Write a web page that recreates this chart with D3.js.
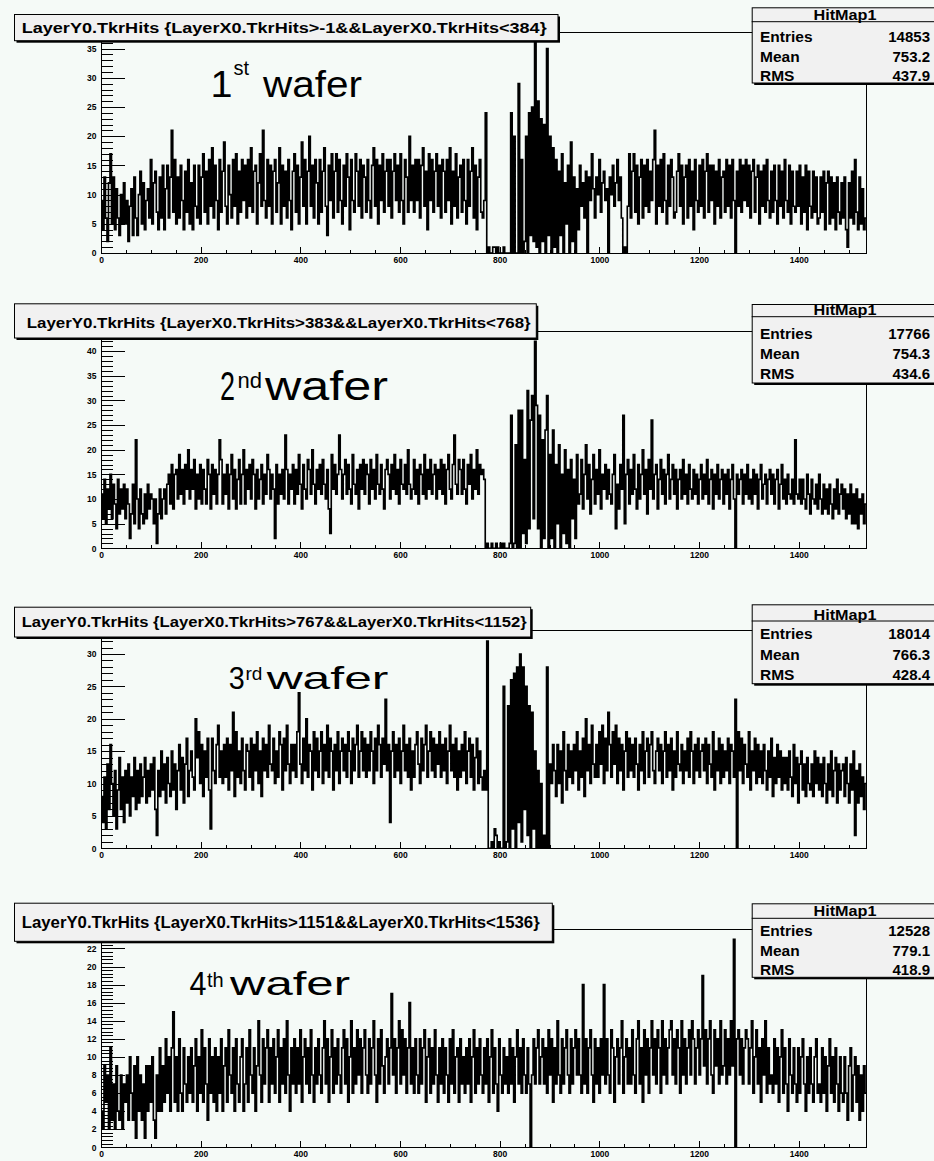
<!DOCTYPE html>
<html>
<head>
<meta charset="utf-8">
<script src="https://cdn.jsdelivr.net/npm/d3@7"></script>
<style>
  body { margin: 0; background: #f5faf7; }
  svg { display: block; }
  text { font-family: "Liberation Sans", Arial, sans-serif; }
</style>
</head>
<body>
<svg id="canvas" width="934" height="1161"></svg>
<script>
// Hit counts per strip, one value per group of 3 strips (1536 strips per layer).
const channelsPerValue = 3;
const channelCount = 1536;

const wafer1Counts = [
  9,4,13,6,2,12,17,5,13,4,11,6,3,10,5,12,
  5,9,2,8,11,3,13,6,3,10,14,5,12,4,9,11,
  6,16,5,12,14,7,4,13,6,15,4,11,15,6,13,21,
  7,16,5,13,6,15,9,4,14,7,16,5,12,4,15,8,
  6,15,5,13,17,7,14,5,16,8,18,6,15,9,4,16,
  7,14,19,8,5,15,10,6,16,8,17,5,14,7,16,9,
  15,6,16,8,18,7,14,15,5,12,17,8,21,9,6,16,
  8,15,5,14,16,7,12,18,5,15,8,14,6,16,9,4,
  14,17,7,15,5,13,19,8,16,5,14,20,8,15,6,16,
  12,5,16,7,14,18,8,3,15,9,17,6,14,17,7,16,
  9,5,15,8,17,13,4,16,9,7,17,14,8,16,6,15,
  13,7,16,9,6,15,18,8,16,5,15,9,17,7,14,16,
  8,16,6,14,17,9,15,7,17,9,5,16,13,7,20,9,
  15,7,16,9,16,6,15,18,8,14,4,17,9,16,7,14,
  17,8,15,6,16,14,7,16,9,18,5,14,8,17,6,13,
  15,7,16,9,5,16,8,14,18,6,15,4,13,16,7,6,
  9,24,0,1,0,0,1,1,0,1,0,0,0,1,0,0,
  0,0,24,0,20,0,0,29,0,16,0,2,20,0,24,3,
  25,2,36,1,26,0,23,2,22,0,35,3,20,0,18,1,
  16,0,14,3,17,0,12,5,15,0,19,2,13,0,11,4,
  15,8,12,6,14,0,13,9,17,11,6,13,10,16,7,12,
  14,9,11,0,13,10,15,8,12,16,9,13,6,0,1,0,
  8,17,6,14,17,7,15,5,13,16,6,15,8,16,7,14,
  9,16,21,5,15,8,16,7,17,9,5,15,8,16,13,6,
  7,14,17,8,15,5,13,15,6,16,8,14,4,16,9,7,
  15,8,16,6,14,17,7,15,9,15,5,14,8,16,6,13,
  14,7,16,8,15,6,16,9,0,14,8,16,7,15,9,16,
  8,15,6,14,16,7,13,15,5,14,8,15,7,16,9,6,
  14,7,15,9,5,15,8,14,6,16,9,7,15,5,14,8,
  7,14,8,15,5,13,7,15,4,14,8,6,14,7,13,5,
  6,13,7,14,4,12,14,5,13,6,12,4,13,7,5,12,
  6,13,4,1,12,6,14,5,16,7,4,13,5,11,4,6
];

const wafer2Counts = [
  11,6,14,5,12,8,15,6,13,9,4,14,7,12,8,13,
  6,12,9,2,7,13,5,22,10,4,12,7,5,11,6,13,
  8,11,10,5,10,1,7,12,6,10,12,7,13,15,9,17,
  8,15,16,10,19,11,16,9,17,12,20,10,16,12,18,8,
  15,10,17,9,16,12,9,18,15,8,17,11,16,9,15,22,
  18,9,15,11,17,8,15,19,10,16,8,14,18,9,15,20,
  9,16,12,17,10,18,15,8,16,10,14,17,9,15,11,19,
  16,10,15,12,2,17,9,15,11,16,10,23,16,9,15,12,
  17,9,16,11,19,13,8,17,12,10,18,16,11,20,13,9,
  16,12,17,11,18,13,10,16,8,3,19,12,17,11,15,23,
  16,10,15,18,11,17,12,9,19,13,11,16,8,17,12,18,
  11,17,15,9,18,12,16,10,19,13,11,17,12,8,16,18,
  15,10,17,12,19,11,16,9,18,13,12,17,11,20,13,10,
  12,18,11,16,9,17,15,11,19,10,16,12,18,11,15,17,
  10,16,12,18,11,17,9,16,19,12,10,17,23,13,11,18,
  16,11,18,12,9,17,13,19,10,16,12,20,11,17,15,16,
  14,0,1,0,0,1,0,0,1,0,0,1,0,1,0,0,
  0,1,27,0,1,21,0,28,0,28,3,18,1,32,4,26,
  31,6,42,29,4,27,0,22,2,24,31,0,19,2,24,0,
  17,5,21,0,15,3,20,1,16,0,18,6,14,2,19,9,
  11,18,8,15,21,10,17,7,14,19,9,16,11,20,8,15,
  12,17,10,16,11,9,15,19,4,13,8,17,12,27,5,15,
  18,9,16,11,19,12,8,17,10,15,20,11,16,7,18,12,
  26,10,15,17,8,14,18,11,16,9,15,19,10,14,17,11,
  16,8,14,16,10,18,11,15,9,17,12,10,16,11,15,9,
  14,17,10,15,11,18,9,14,16,8,15,11,17,10,14,16,
  9,15,11,16,8,14,17,10,0,15,11,14,16,9,15,11,
  17,10,14,9,16,11,15,8,14,17,10,13,15,9,14,16,
  11,15,9,14,16,8,13,17,10,14,9,15,11,10,14,9,
  22,11,10,14,9,14,10,8,15,11,7,14,10,9,13,8,
  15,10,7,13,8,12,7,13,9,6,12,8,14,7,11,13,
  8,12,6,11,7,13,5,11,5,12,4,10,7,11,5,9
];

const wafer3Counts = [
  8,4,11,3,13,6,16,10,5,12,3,9,14,6,11,4,
  12,7,13,5,11,8,14,6,12,7,13,8,11,14,7,12,
  8,13,9,14,6,2,12,8,15,9,13,7,14,10,8,15,
  9,13,6,12,16,9,14,7,13,17,8,12,15,11,9,20,
  14,18,10,16,8,15,11,17,9,3,17,12,10,16,19,11,
  15,10,16,11,17,9,16,12,21,8,18,11,15,10,17,12,
  9,16,15,11,17,9,16,12,18,10,15,8,17,12,16,11,
  19,13,12,17,10,15,11,18,16,9,17,12,19,13,10,16,
  12,16,11,18,24,13,10,17,12,20,11,16,15,9,18,12,
  17,11,15,18,10,16,12,19,11,17,15,9,16,12,18,10,
  15,17,12,16,11,18,15,10,17,12,16,19,11,15,18,12,
  17,11,16,12,18,15,10,17,12,19,16,11,17,13,23,12,
  16,4,15,18,11,16,12,17,10,15,19,12,16,11,17,9,
  15,11,16,18,13,10,17,12,16,19,11,15,18,12,17,11,
  16,13,18,11,16,12,17,10,15,19,12,16,11,17,9,15,
  11,16,12,18,10,15,17,11,16,9,14,17,10,15,11,9,
  12,9,32,0,0,1,0,3,2,0,1,0,0,25,0,1,
  22,0,26,3,27,0,28,4,30,1,28,6,25,2,22,0,
  21,3,15,0,12,0,10,0,2,0,28,0,13,10,16,12,
  8,16,10,15,7,18,12,9,16,11,15,10,16,12,18,9,
  15,11,17,8,20,12,16,10,19,13,11,16,11,18,13,19,
  10,17,12,21,16,11,18,13,19,10,17,12,16,9,15,18,
  11,17,12,16,11,17,13,9,16,12,18,10,15,17,11,16,
  18,12,10,15,17,12,16,10,15,18,11,16,12,17,9,15,
  11,18,13,12,16,10,15,12,17,11,18,15,10,16,12,17,
  11,15,16,12,17,10,16,13,11,18,9,15,12,17,10,16,
  11,15,12,17,10,16,15,11,23,0,18,12,17,10,16,13,
  11,18,9,15,12,17,10,16,11,15,10,16,12,9,15,11,
  17,8,14,10,16,11,15,9,14,10,14,9,15,11,8,16,
  10,14,7,13,15,9,13,8,14,10,9,13,8,15,10,14,
  9,13,8,14,10,7,13,9,15,8,12,14,7,13,9,12,
  13,8,14,10,7,13,9,15,2,12,7,13,8,11,6,10
];

const wafer4Counts = [
  4,2,9,5,8,2,11,3,7,2,9,4,3,8,2,7,
  5,8,3,10,6,3,9,1,10,4,8,3,7,1,9,4,
  9,5,10,3,1,8,4,11,4,9,5,12,6,10,4,11,
  15,5,10,4,12,6,4,11,7,5,10,6,11,5,9,12,
  4,10,6,13,5,11,7,3,12,6,10,5,11,4,10,6,
  12,4,9,11,5,13,8,6,11,4,12,7,5,10,12,4,
  7,11,5,13,8,6,11,4,9,14,8,5,12,7,11,13,
  5,11,7,12,6,10,13,5,11,7,12,6,14,8,4,11,
  7,12,6,11,7,13,5,10,12,7,11,6,13,8,5,11,
  7,12,8,6,11,14,7,12,5,10,13,6,11,7,12,8,
  6,11,13,7,12,5,10,14,6,11,7,13,8,12,6,11,
  13,8,6,12,7,11,14,8,5,12,7,13,9,6,10,12,
  7,11,17,8,12,6,11,14,7,13,8,12,6,11,16,7,
  11,6,12,8,6,12,7,11,13,5,10,12,6,11,7,13,
  8,5,11,7,12,6,11,8,5,12,7,13,6,10,11,5,
  12,7,10,6,11,7,12,5,10,13,6,11,7,12,8,6,
  11,7,12,5,10,13,6,11,7,4,12,8,6,11,7,10,
  6,12,7,11,5,10,13,7,11,6,12,8,6,11,7,0,
  8,12,7,11,13,7,10,12,7,11,6,13,8,12,5,11,
  7,14,8,6,12,7,11,13,8,6,12,7,11,13,8,12,
  8,6,18,7,12,6,11,13,8,5,12,7,11,6,12,8,
  18,7,12,8,6,13,11,5,10,12,7,11,14,6,10,12,
  7,11,7,13,8,6,12,14,7,11,5,13,8,12,6,11,
  14,8,12,7,13,11,6,14,8,12,7,11,13,14,8,12,
  7,13,11,6,14,8,12,7,11,13,8,14,12,7,11,13,
  8,12,19,9,13,7,12,14,8,6,13,9,12,7,14,8,
  9,13,7,12,8,14,9,23,0,12,13,8,12,7,11,13,
  12,7,11,14,6,10,13,7,11,5,12,8,14,6,11,7,
  8,6,12,7,11,5,10,13,6,11,7,4,12,8,6,11,
  7,5,11,6,10,12,7,4,10,6,11,7,5,10,12,6,
  7,5,11,6,10,4,9,12,6,10,5,11,7,4,10,6,
  5,10,6,3,9,11,4,8,10,5,9,3,8,4,9,6
];

const xTickValues = [0, 200, 400, 600, 800, 1000, 1200, 1400];
const yTicks1 = [0, 5, 10, 15, 20, 25, 30, 35];
const yTicks2 = [0, 5, 10, 15, 20, 25, 30, 35, 40];
const yTicks3 = [0, 5, 10, 15, 20, 25, 30];
const yTicks4 = [0, 2, 4, 6, 8, 10, 12, 14, 16, 18, 20, 22];

const titles = [
  "LayerY0.TkrHits {LayerX0.TkrHits>-1&&LayerX0.TkrHits<384}",
  "LayerY0.TkrHits {LayerX0.TkrHits>383&&LayerX0.TkrHits<768}",
  "LayerY0.TkrHits {LayerX0.TkrHits>767&&LayerX0.TkrHits<1152}",
  "LayerY0.TkrHits {LayerX0.TkrHits>1151&&LayerX0.TkrHits<1536}"
];
const waferNumbers = ["1", "2", "3", "4"];
const waferSuffixes = ["st", "nd", "rd", "th"];
const statsName = "HitMap1";
const statLabels = ["Entries", "Mean", "RMS"];
const statEntries = ["14853", "17766", "18014", "12528"];
const statMeans = ["753.2", "754.3", "766.3", "779.1"];
const statRms = ["437.9", "434.6", "428.4", "418.9"];

// Page geometry for each pad
const pads = [
  { top: 32.3, bottom: 253,
    title: { x0: 14, y0: 14, x1: 560, y1: 42.7, tx: 21.7, base: 33.4, fs: 14, len: 525 },
    stats: { y0: 7.3, y1: 85, sep: 21.7, head: 19.6, rows: [41.7, 61.5, 80.6] },
    label: { fs: 37, dx: 210.5, dlen: 22, base: 96.7, sfs: 20, sx: 233.5, sbase: 75, wx: 263, wlen: 99 } },
  { top: 331, bottom: 548.3,
    title: { x0: 14, y0: 303.3, x1: 538.3, y1: 340, tx: 26.7, base: 328.3, fs: 15, len: 504 },
    stats: { y0: 304, y1: 385, sep: 316.7, head: 314.8, rows: [339.3, 359.2, 379] },
    label: { fs: 40, dx: 220, dlen: 15, base: 400, sfs: 22, sx: 237.5, sbase: 388, wx: 265, wlen: 123 } },
  { top: 630.7, bottom: 848.3,
    title: { x0: 14, y0: 606.7, x1: 532.7, y1: 639, tx: 21.7, base: 627.3, fs: 15, len: 505 },
    stats: { y0: 604.3, y1: 685.7, sep: 621, head: 619.6, rows: [639, 659.8, 680] },
    label: { fs: 32, dx: 228.7, dlen: 16, base: 688.5, sfs: 19, sx: 245.5, sbase: 680, wx: 266.7, wlen: 121.7 } },
  { top: 929, bottom: 1147.3,
    title: { x0: 14, y0: 902.7, x1: 554.3, y1: 943.3, tx: 21.7, base: 928.3, fs: 16, len: 518 },
    stats: { y0: 903.3, y1: 979.3, sep: 918.3, head: 916.2, rows: [936, 955.7, 975.2] },
    label: { fs: 33, dx: 189.5, dlen: 17, base: 995, sfs: 20, sx: 207, sbase: 986.7, wx: 230, wlen: 120 } }
];

const series = [wafer1Counts, wafer2Counts, wafer3Counts, wafer4Counts];
const yTickSets = [yTicks1, yTicks2, yTicks3, yTicks4];

const svg = d3.select("#canvas");
const frameLeft = 101, frameRight = 866.5;
const statsLeft = 751.7;

pads.forEach((pad, k) => {
  const counts = series[k];
  const yTicks = yTickSets[k];
  const g = svg.append("g");

  const x = d3.scaleLinear().domain([0, channelCount]).range([frameLeft, frameRight]);
  const yMax = d3.max(counts) * 1.05;
  const y = d3.scaleLinear().domain([0, yMax]).range([pad.bottom, pad.top]);

  // histogram outline, clipped to the frame
  const clipId = "frame" + k;
  g.append("clipPath").attr("id", clipId)
    .append("rect")
    .attr("x", frameLeft).attr("y", pad.top)
    .attr("width", frameRight - frameLeft).attr("height", pad.bottom - pad.top);

  const pts = counts.map((v, i) => [i * channelsPerValue, v]);
  pts.push([channelCount, counts[counts.length - 1]]);
  const line = d3.line()
    .x(d => x(d[0]))
    .y(d => y(d[1]))
    .curve(d3.curveStepAfter);
  g.append("path")
    .attr("clip-path", `url(#${clipId})`)
    .attr("d", line([[0, 0]].concat(pts)))
    .attr("fill", "none")
    .attr("stroke", "#000")
    .attr("stroke-width", 1.65)
    .attr("stroke-linejoin", "miter");

  // frame top and right edges
  g.append("path")
    .attr("d", `M${frameLeft},${pad.top}H${frameRight}V${pad.bottom}`)
    .attr("fill", "none").attr("stroke", "#000").attr("stroke-width", 1)
    .attr("shape-rendering", "crispEdges");

  // y axis: major and minor ticks point into the frame
  const yStep = yTicks[1] - yTicks[0];
  const yMinor = d3.range(0, yMax + 1e-9, yStep / 5).filter(v => !yTicks.some(t => Math.abs(t - v) < 1e-6));
  g.append("g").attr("transform", `translate(${frameLeft},0)`)
    .call(d3.axisLeft(y).tickValues(yTicks).tickFormat(d3.format("d"))
      .tickSizeInner(-24).tickSizeOuter(0).tickPadding(4.5));
  g.append("g").attr("transform", `translate(${frameLeft},0)`)
    .call(d3.axisLeft(y).tickValues(yMinor).tickSizeInner(-11.5).tickSizeOuter(0).tickFormat(""))
    .select(".domain").remove();

  // x axis
  const xMinor = d3.range(0, channelCount + 1, 50).filter(v => v % 200 !== 0);
  const xAxis = g.append("g").attr("transform", `translate(0,${pad.bottom})`)
    .call(d3.axisBottom(x).tickValues(xTickValues).tickFormat(d3.format("d"))
      .tickSizeInner(-6.5).tickSizeOuter(0).tickPadding(3.8));
  g.append("g").attr("transform", `translate(0,${pad.bottom})`)
    .call(d3.axisBottom(x).tickValues(xMinor).tickSizeInner(-3.3).tickSizeOuter(0).tickFormat(""))
    .select(".domain").remove();
  xAxis.select(".domain").attr("d", `M${frameLeft},0H${frameRight}`);

  g.selectAll(".tick line, .domain")
    .attr("stroke", "#000").attr("stroke-width", 1).attr("shape-rendering", "crispEdges");
  g.selectAll(".tick text")
    .attr("fill", "#000")
    .style("font-family", "'Liberation Sans', Arial, sans-serif")
    .style("font-size", "8.5px")
    .style("font-weight", "bold");

  // wafer label: ordinal number (horizontally fitted), raised suffix, then "wafer"
  const L = pad.label;
  const digit = g.append("text").attr("fill", "#000")
    .style("font-size", L.fs + "px")
    .text(waferNumbers[k]);
  const natural = digit.node().getComputedTextLength() || L.dlen;
  digit.attr("transform", `translate(${L.dx},${L.base}) scale(${L.dlen / natural},1)`);
  g.append("text").attr("x", L.sx).attr("y", L.sbase)
    .style("font-size", L.sfs + "px").attr("fill", "#000")
    .text(waferSuffixes[k]);
  g.append("text").attr("x", L.wx).attr("y", L.base)
    .style("font-size", L.fs + "px").attr("fill", "#000")
    .attr("textLength", L.wlen).attr("lengthAdjust", "spacingAndGlyphs")
    .text("wafer");

  // title box with shadow
  const T = pad.title;
  const tw = T.x1 - T.x0 - 2.5, th = T.y1 - T.y0 - 2.5;
  g.append("rect").attr("x", T.x0 + 2.5).attr("y", T.y0 + 2.5)
    .attr("width", tw).attr("height", th).attr("fill", "#000");
  g.append("rect").attr("x", T.x0 + 0.5).attr("y", T.y0 + 0.5)
    .attr("width", tw).attr("height", th)
    .attr("fill", "#f1f1f1").attr("stroke", "#000").attr("stroke-width", 1);
  g.append("text").attr("x", T.tx).attr("y", T.base)
    .style("font-size", T.fs + "px").style("font-weight", "bold").attr("fill", "#000")
    .attr("textLength", T.len).attr("lengthAdjust", "spacingAndGlyphs")
    .text(titles[k]);

  // statistics box
  const S = pad.stats;
  const sw = 250, sh = S.y1 - S.y0 - 2.5;
  g.append("rect").attr("x", statsLeft + 2.5).attr("y", S.y0 + 2.5)
    .attr("width", sw).attr("height", sh).attr("fill", "#000");
  g.append("rect").attr("x", statsLeft + 0.5).attr("y", S.y0 + 0.5)
    .attr("width", sw).attr("height", sh)
    .attr("fill", "#f1f1f1").attr("stroke", "#000").attr("stroke-width", 1);
  g.append("line").attr("x1", statsLeft).attr("x2", 934)
    .attr("y1", S.sep).attr("y2", S.sep)
    .attr("stroke", "#000").attr("stroke-width", 1);
  g.append("text").attr("x", 813.5).attr("y", S.head)
    .style("font-size", "14px").style("font-weight", "bold").attr("fill", "#000")
    .attr("textLength", 63).attr("lengthAdjust", "spacingAndGlyphs")
    .text(statsName);
  const statValues = [statEntries[k], statMeans[k], statRms[k]];
  statLabels.forEach((lab, r) => {
    g.append("text").attr("x", 760).attr("y", S.rows[r])
      .style("font-size", "15.5px").style("font-weight", "bold").attr("fill", "#000")
      .text(lab);
    g.append("text").attr("x", 930).attr("y", S.rows[r])
      .attr("text-anchor", "end")
      .style("font-size", "15px").style("font-weight", "bold").attr("fill", "#000")
      .text(statValues[r]);
  });
});
</script>
</body>
</html>
